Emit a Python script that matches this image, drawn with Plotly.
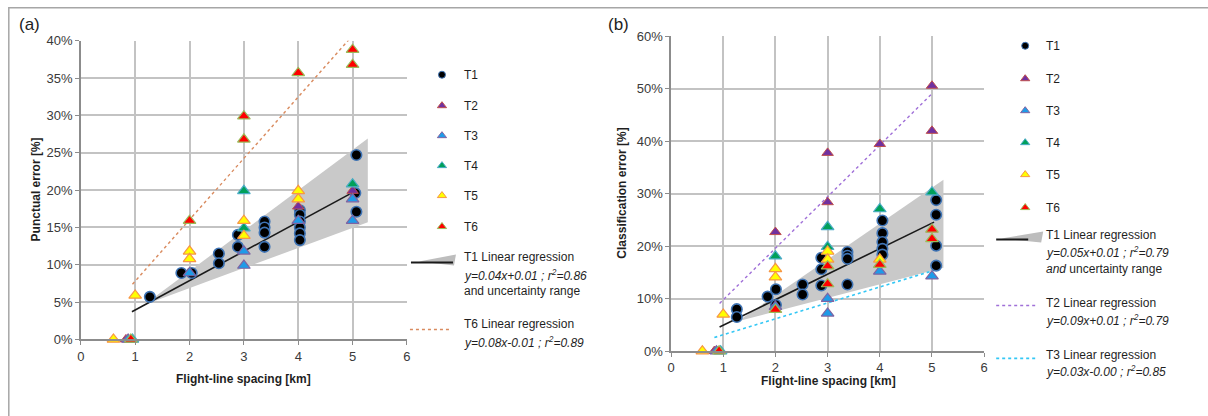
import plotly.graph_objects as go

W, H = 1208, 416
FONT = "Liberation Sans, Arial, sans-serif"

# ---------------- data: panel (a) punctual error [%] ----------------
a_t1_x = [1.27, 1.85, 2.04, 2.54, 2.54, 2.89, 2.89, 3.38, 3.38, 3.38, 3.38,
          4.03, 4.03, 4.03, 4.03, 4.03, 4.03, 5.07, 5.05, 5.07]
a_t1_y = [5.7, 8.9, 8.9, 11.5, 10.2, 14.0, 12.4, 15.8, 15.0, 14.3, 12.4,
          17.3, 16.7, 15.8, 15.0, 14.2, 13.3, 24.7, 19.6, 17.1]
a_t2_x = [0.83, 4.0, 5.0]
a_t2_y = [0.0, 17.8, 19.9]
a_t3_x = [0.87, 2.0, 3.0, 3.0, 4.0, 5.0, 5.0]
a_t3_y = [0.0, 8.9, 11.8, 9.9, 15.9, 18.8, 15.9]
a_t4_x = [0.95, 3.0, 3.0, 5.0]
a_t4_y = [0.0, 19.9, 14.9, 20.8]
a_t5_x = [0.6, 1.0, 2.0, 2.0, 3.0, 3.0, 4.0, 4.0]
a_t5_y = [0.0, 5.9, 11.8, 10.8, 15.9, 13.9, 19.9, 18.8]
a_t6_x = [0.92, 2.0, 3.0, 3.0, 4.0, 5.0, 5.0]
a_t6_y = [0.0, 15.9, 29.9, 26.8, 35.7, 38.8, 36.8]
a_reg_t1_x = [0.94, 5.03]
a_reg_t1_y = [3.7, 19.8]
a_band_x = [1.16, 5.28, 5.28]
a_band_y = [4.6, 26.9, 15.7]
a_reg_t6_x = [0.95, 5.0]
a_reg_t6_y = [7.4, 40.7]

# ---------------- data: panel (b) classification error [%] ----------------
b_t1_x = [1.26, 1.26, 1.85, 2.01, 2.01, 2.52, 2.52, 2.88, 2.88, 2.88,
          3.38, 3.38, 3.38, 3.38, 4.05, 4.05, 4.05, 4.05, 4.05,
          5.08, 5.08, 5.08, 5.08]
b_t1_y = [8.0, 6.5, 10.4, 11.8, 8.8, 12.7, 10.8, 17.8, 15.6, 12.5,
          18.9, 18.2, 17.6, 12.7, 24.9, 22.5, 20.8, 19.5, 18.4,
          28.8, 26.0, 20.1, 16.3]
b_t2_x = [0.83, 2.0, 3.0, 3.0, 4.0, 5.0, 5.0]
b_t2_y = [0.0, 22.7, 37.8, 28.4, 39.5, 50.6, 42.0]
b_t3_x = [0.87, 2.0, 3.0, 3.0, 4.0, 5.0]
b_t3_y = [0.0, 8.5, 10.0, 7.2, 15.2, 14.3]
b_t4_x = [0.95, 2.0, 3.0, 3.0, 4.0, 5.0]
b_t4_y = [0.0, 18.1, 23.7, 19.9, 27.1, 30.3]
b_t5_x = [0.6, 1.0, 2.0, 2.0, 3.0, 3.0, 4.0]
b_t5_y = [0.0, 7.0, 15.7, 14.1, 19.0, 17.5, 17.5]
b_t6_x = [0.92, 2.0, 3.0, 3.0, 4.0, 5.0, 5.0]
b_t6_y = [0.0, 7.9, 16.2, 12.8, 16.5, 23.2, 21.4]
b_reg_t1_x = [0.93, 5.04]
b_reg_t1_y = [4.6, 24.6]
b_band_x = [1.28, 5.22, 5.22]
b_band_y = [5.7, 32.7, 15.9]
b_reg_t2_x = [0.93, 4.98]
b_reg_t2_y = [9.1, 48.9]
b_reg_t3_x = [0.83, 5.04]
b_reg_t3_y = [2.6, 15.4]

series_names = ["T1", "T2", "T3", "T4", "T5", "T6"]
x_ticks = [0, 1, 2, 3, 4, 5, 6]
a_y_ticks = [0, 5, 10, 15, 20, 25, 30, 35, 40]
b_y_ticks = [0, 10, 20, 30, 40, 50, 60]
a_y_labels = [f"{v}%" for v in a_y_ticks]
b_y_labels = [f"{v}%" for v in b_y_ticks]

# ---------------- layout geometry (target pixel positions) ----------------
# the photographed page is slightly rescaled; map target pixels -> page pixels
SX, OX = 0.993, 3.2
SY, OY = 0.965, 7.2

def pgx(x):
    return (x - OX) / SX

def pgy(y):
    return (y - OY) / SY

def dom_x(x0, x1):
    return [pgx(x0) / W, pgx(x1) / W]

def dom_y(top, bottom):
    return [1 - pgy(bottom) / H, 1 - pgy(top) / H]

# ---------------- styles ----------------
STYLE = {
    "T1": dict(symbol="circle", color="#000000", line="#3F74B5", size=10.5, lw=1.6),
    "T2": dict(symbol="triangle-up", color="#7030A0", line="#C0504D", size=10, lw=1.0),
    "T3": dict(symbol="triangle-up", color="#1E9BE8", line="#8064A2", size=11, lw=1.2),
    "T4": dict(symbol="triangle-up", color="#00A05A", line="#4BACC6", size=11, lw=1.2),
    "T5": dict(symbol="triangle-up", color="#FFFF00", line="#F79646", size=11, lw=1.2),
    "T6": dict(symbol="triangle-up", color="#FF0000", line="#9BBB59", size=11, lw=1.2),
}
BAND = "#C9C9C9"
T6REG = "#D98B5F"
T2REG = "#A070D8"
T3REG = "#33C7F5"

fig = go.Figure()

def markers(x, y, name, xa, ya):
    s = STYLE[name]
    fig.add_trace(go.Scatter(
        x=x, y=y, mode="markers", name=name, xaxis=xa, yaxis=ya,
        cliponaxis=False, showlegend=False,
        marker=dict(symbol=s["symbol"], color=s["color"], size=s["size"],
                    line=dict(color=s["line"], width=s["lw"]))))

def band(x, y, xa, ya):
    fig.add_trace(go.Scatter(x=x, y=y, mode="lines", fill="toself",
                             fillcolor=BAND, line=dict(width=0, color=BAND),
                             xaxis=xa, yaxis=ya, showlegend=False))

def line(x, y, xa, ya, color, dash="solid", width=1.6):
    fig.add_trace(go.Scatter(x=x, y=y, mode="lines", xaxis=xa, yaxis=ya,
                             line=dict(color=color, dash=dash, width=width),
                             showlegend=False))

# panel (a)
band(a_band_x, a_band_y, "x", "y")
line(a_reg_t6_x, a_reg_t6_y, "x", "y", T6REG, "dot", 1.4)
line(a_reg_t1_x, a_reg_t1_y, "x", "y", "#1A1A1A")
for nm, xs, ys in zip(series_names, [a_t1_x, a_t2_x, a_t3_x, a_t4_x, a_t5_x, a_t6_x],
                      [a_t1_y, a_t2_y, a_t3_y, a_t4_y, a_t5_y, a_t6_y]):
    markers(xs, ys, nm, "x", "y")

# panel (b)
band(b_band_x, b_band_y, "x2", "y2")
line(b_reg_t2_x, b_reg_t2_y, "x2", "y2", T2REG, "dot", 1.4)
line(b_reg_t3_x, b_reg_t3_y, "x2", "y2", T3REG, "dot", 1.6)
line(b_reg_t1_x, b_reg_t1_y, "x2", "y2", "#1A1A1A")
for nm, xs, ys in zip(series_names, [b_t1_x, b_t2_x, b_t3_x, b_t4_x, b_t5_x, b_t6_x],
                      [b_t1_y, b_t2_y, b_t3_y, b_t4_y, b_t5_y, b_t6_y]):
    markers(xs, ys, nm, "x2", "y2")

# ---------------- manual legends (overlay axis in target pixels) ----------------
def leg_marker(px, py, name):
    s = STYLE[name]
    fig.add_trace(go.Scatter(
        x=[px], y=[py], mode="markers", xaxis="x3", yaxis="y3", showlegend=False,
        cliponaxis=False,
        marker=dict(symbol=s["symbol"], color=s["color"], size=7 if name == "T1" else 8,
                    line=dict(color=s["line"], width=1))))

def leg_line(x0, x1, py, color, dash="solid", width=1.6):
    fig.add_trace(go.Scatter(x=[x0, x1], y=[py, py], mode="lines", xaxis="x3", yaxis="y3",
                             showlegend=False, line=dict(color=color, dash=dash, width=width)))

def leg_wedge(xs, ys):
    fig.add_trace(go.Scatter(x=xs, y=ys, mode="lines", fill="toself", fillcolor="#BDBDBD",
                             line=dict(width=0, color="#BDBDBD"), xaxis="x3", yaxis="y3",
                             showlegend=False))

annotations = []

def text(px, py, s, size=12, anchor="left", color="#1F1F1F", bold=False, angle=0):
    if bold:
        s = "<b>" + s + "</b>"
    annotations.append(dict(x=px, y=py, xref="x3", yref="y3", textangle=angle,
                            text=s, showarrow=False, xanchor=anchor, yanchor="middle",
                            font=dict(family=FONT, size=size, color=color)))

# legend (a)
a_leg_y = [75, 106, 136, 166, 196, 227]
for nm, yy in zip(series_names, a_leg_y):
    leg_marker(441, yy, nm)
    text(461, yy, nm)
leg_wedge([418, 455, 453], [262, 255, 266])
leg_line(410, 452, 263, "#1A1A1A", width=2)
text(461, 257, "T1 Linear regression")
text(461, 275, "<i>y=0.04x+0.01 ; r<sup>2</sup>=0.86</i>")
text(461, 292, "and uncertainty range")
leg_line(409, 450, 330, T6REG, "dot", 1.6)
text(461, 325, "T6 Linear regression")
text(461, 343, "<i>y=0.08x-0.01 ; r<sup>2</sup>=0.89</i>")

# legend (b)
b_leg_y = [46, 79, 111, 143, 175, 208]
for nm, yy in zip(series_names, b_leg_y):
    leg_marker(1024, yy, nm)
    text(1043, yy, nm)
leg_wedge([1000, 1042, 1040], [239, 232, 243])
leg_line(995, 1027, 240, "#1A1A1A", width=2)
text(1043, 235, "T1 Linear regression")
text(1043, 252, "<i>y=0.05x+0.01 ; r<sup>2</sup>=0.79</i>")
text(1043, 269, "<i>and</i> uncertainty range")
leg_line(995, 1037, 306, T2REG, "dot", 1.6)
text(1043, 304, "T2 Linear regression")
text(1043, 321, "<i>y=0.09x+0.01 ; r<sup>2</sup>=0.79</i>")
leg_line(995, 1037, 359, T3REG, "dot", 1.8)
text(1043, 356, "T3 Linear regression")
text(1043, 372, "<i>y=0.03x-0.00 ; r<sup>2</sup>=0.85</i>")

# axis titles and panel labels
text(29, 25, "(a)", size=17, color="#222222", anchor="center")
text(617, 25, "(b)", size=17, color="#222222", anchor="center")
text(243, 380, "Flight-line spacing [km]", bold=True, anchor="center")
text(827, 382, "Flight-line spacing [km]", bold=True, anchor="center")
text(35, 190, "Punctual error [%]", bold=True, anchor="center", angle=-90)
text(621, 194, "Classification error [%]", bold=True, anchor="center", angle=-90)

GRID = "#C3C3C3"
AXL = "#8C8C8C"
TICKF = dict(family=FONT, size=13, color="#3A3A3A")

def xaxis(domain, anchor):
    return dict(domain=domain, anchor=anchor, range=[0, 6], tickmode="array",
                tickvals=x_ticks, ticktext=[str(v) for v in x_ticks],
                showgrid=True, gridcolor=GRID, gridwidth=1.5, zeroline=False,
                showline=True, linecolor=AXL, linewidth=1.5, ticks="outside",
                ticklen=4, tickcolor=AXL, tickfont=TICKF, fixedrange=True)

def yaxis(domain, anchor, top, ticks, labels):
    return dict(domain=domain, anchor=anchor, range=[0, top], tickmode="array",
                tickvals=ticks, ticktext=labels,
                showgrid=True, gridcolor=GRID, gridwidth=1.5,
                zeroline=False, showline=True, linecolor=AXL, linewidth=1.5,
                ticks="outside", ticklen=4, tickcolor=AXL, tickfont=TICKF,
                fixedrange=True)

fig.update_layout(
    width=W, height=H, autosize=False,
    margin=dict(l=0, r=0, t=0, b=0),
    paper_bgcolor="white", plot_bgcolor="rgba(0,0,0,0)",
    showlegend=False,
    xaxis=xaxis(dom_x(80, 406), "y"),
    yaxis=yaxis(dom_y(41, 340), "x", 40, a_y_ticks, a_y_labels),
    xaxis2=xaxis(dom_x(670, 983), "y2"),
    yaxis2=yaxis(dom_y(36.7, 351.7), "x2", 60, b_y_ticks, b_y_labels),
    xaxis3=dict(domain=[0, 1], anchor="y3", range=[OX, SX * W + OX],
                visible=False, fixedrange=True),
    yaxis3=dict(domain=[0, 1], anchor="x3", range=[SY * H + OY, OY],
                visible=False, fixedrange=True),
    annotations=annotations,
    shapes=[dict(type="rect", xref="paper", yref="paper",
                 x0=pgx(8) / W, x1=1.02, y0=-0.05, y1=1 - max(pgy(7.6), 0.8) / H,
                 line=dict(color="#A6A6A6", width=1.5))],
)

POST = (
    "var s=document.createElement('style');"
    "s.textContent='html,body{margin:0!important;padding:0!important;overflow:hidden!important;"
    "width:1208px;height:416px;}';"
    "document.head.appendChild(s);"
    "var d=document.getElementById('{plot_id}');"
    "d.style.position='fixed';d.style.left='0px';d.style.top='0px';"
)

fig.write_html(
    "out.html",
    config={"responsive": False, "displayModeBar": False},
    post_script=POST,
)
